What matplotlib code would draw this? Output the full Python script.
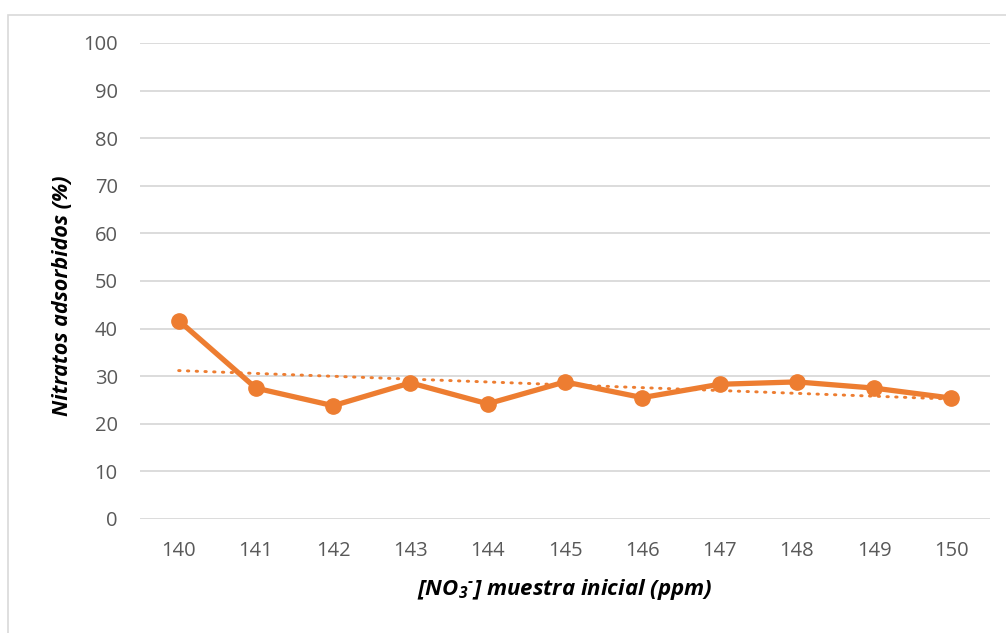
import matplotlib.pyplot as plt
import numpy as np
from matplotlib.patches import Rectangle

plt.rcParams["font.family"] = ["Open Sans", "DejaVu Sans"]
plt.rcParams["mathtext.fontset"] = "custom"
plt.rcParams["mathtext.rm"] = "Open Sans:italic:bold"
plt.rcParams["mathtext.it"] = "Open Sans:italic:bold"

# concentración inicial de nitratos (ppm) y porcentaje adsorbido
concentraciones = [140, 141, 142, 143, 144, 145, 146, 147, 148, 149, 150]
adsorbidos = [41.7, 27.5, 23.8, 28.6, 24.2, 28.8, 25.5, 28.3, 28.8, 27.5, 25.4]
y_ticks = [0, 10, 20, 30, 40, 50, 60, 70, 80, 90, 100]

NARANJA = "#ED7D31"
GRIS = "#D9D9D9"

fig = plt.figure(figsize=(10.06, 6.33), dpi=100)
ax = fig.add_axes([140 / 1006, 1 - 519 / 633, 850 / 1006, 476 / 633])

pos = np.arange(len(concentraciones))
ax.plot(pos, adsorbidos, "-o", color=NARANJA, lw=3.8, ms=11, zorder=3)

# línea de tendencia lineal
coef = np.polyfit(pos, adsorbidos, 1)
ax.plot(pos, np.polyval(coef, pos), color=NARANJA, lw=2.1, ls=(0, (0.5, 2.5)),
        dash_capstyle="round", zorder=2)

ax.set_xlim(-0.5, len(concentraciones) - 0.5)
ax.set_ylim(0, 100)
ax.set_xticks(pos)
ax.set_xticklabels([str(c) for c in concentraciones])
ax.set_yticks(y_ticks)
ax.tick_params(length=0, labelsize=14.5, labelcolor="#595959")
ax.tick_params(axis="y", pad=16)
ax.tick_params(axis="x", pad=16)
ax.grid(axis="y", color=GRIS, lw=1.3)
ax.set_axisbelow(True)
for s in ax.spines.values():
    s.set_visible(False)

fig.text(62 / 1006, 1 - 296 / 633, "Nitratos adsorbidos (%)", rotation=90,
         ha="center", va="center", fontsize=15.5, fontweight="bold", style="italic")
fig.text(565 / 1006, 1 - 590 / 633, r"[NO$_3$$^{\text{-}}$] muestra inicial (ppm)",
         ha="center", va="center", fontsize=16, fontweight="bold", style="italic")

fig.patches.append(Rectangle((7.5 / 1006, -0.01), 1.02, 1 - 14.5 / 633 + 0.01,
                             transform=fig.transFigure, fill=False,
                             edgecolor=GRIS, lw=1.2))

fig.savefig("out.png", dpi=100)
